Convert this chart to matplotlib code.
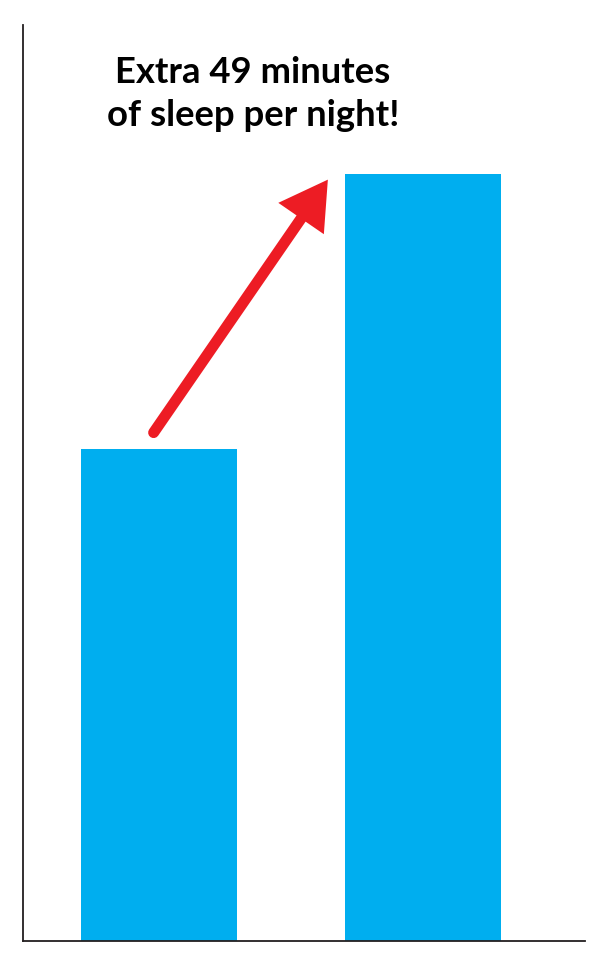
import matplotlib
matplotlib.use("Agg")
import matplotlib.pyplot as plt
import matplotlib.patches as mpatches

# sleep per night, minutes (no axis scale shown)
labels = ["Before", "After"]
minutes = [87.5, 136.5]
headline = ["Extra 49 minutes", "of sleep per night!"]

bar_color = "#00AEEF"
arrow_color = "#ED1C24"

fig = plt.figure(figsize=(6, 9.63), dpi=100)
ax = fig.add_axes([0.0378, 0.0225, 0.9372, 0.9515])

x = list(range(len(labels)))
ax.bar(x, minutes, width=0.591, color=bar_color, zorder=2)

ax.set_xlim(-0.516, 1.614)
ax.set_ylim(0, 163)
ax.set_xticks([])
ax.set_yticks([])
for side in ("top", "right"):
    ax.spines[side].set_visible(False)
for side in ("left", "bottom"):
    ax.spines[side].set_linewidth(1.3)
    ax.spines[side].set_color("#231f20")

# arrow from the first bar up towards the second
start = (x[0] - 0.02, minutes[0] + 3)
tip = (x[1] - 0.36, minutes[1] - 1)
end = (start[0] + 0.87 * (tip[0] - start[0]), start[1] + 0.87 * (tip[1] - start[1]))
ax.plot([start[0], end[0]], [start[1], end[1]], color=arrow_color, lw=7.9,
        solid_capstyle="round", zorder=3)
head = mpatches.FancyArrowPatch(start, tip, arrowstyle="-|>,head_length=34,head_width=19.9",
                                mutation_scale=1, lw=0, color=arrow_color,
                                shrinkA=0, shrinkB=0, zorder=4)
ax.add_patch(head)

fig.text(0.4217, 0.9141, headline[0], ha="center", va="baseline",
         fontsize=26.3, fontweight="bold", family="Lato", color="black")
fig.text(0.4217, 0.8692, headline[1], ha="center", va="baseline",
         fontsize=26.3, fontweight="bold", family="Lato", color="black")

fig.savefig("out.png", dpi=100, facecolor="white")
